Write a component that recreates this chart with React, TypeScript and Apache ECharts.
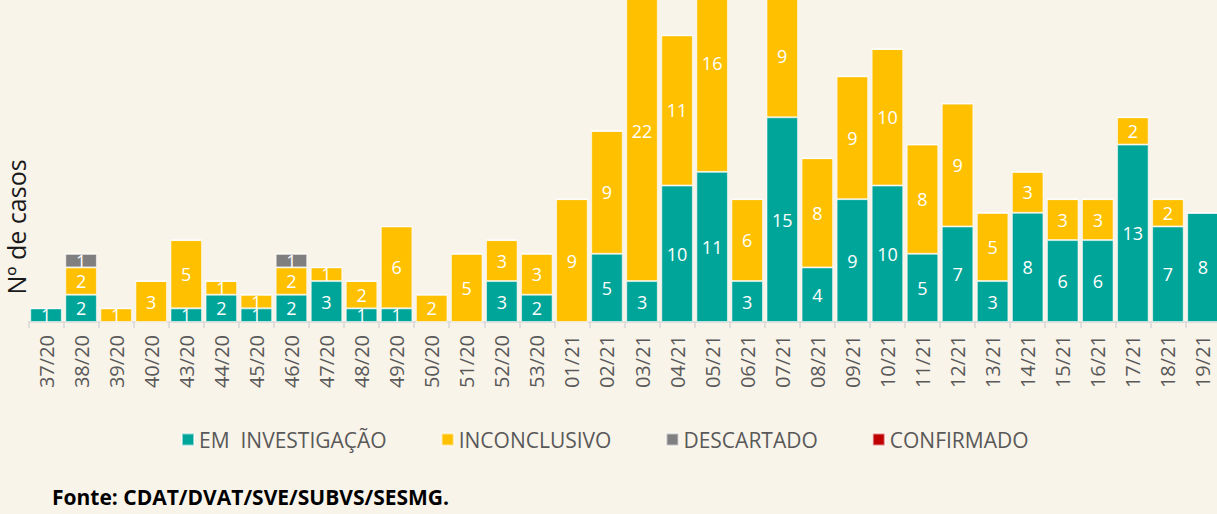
import React, { useEffect, useRef } from "react";
import * as echarts from "echarts";

const weeks = [
  "37/20", "38/20", "39/20", "40/20", "43/20", "44/20", "45/20", "46/20", "47/20", "48/20",
  "49/20", "50/20", "51/20", "52/20", "53/20", "01/21", "02/21", "03/21", "04/21", "05/21",
  "06/21", "07/21", "08/21", "09/21", "10/21", "11/21", "12/21", "13/21", "14/21", "15/21",
  "16/21", "17/21", "18/21", "19/21",
];
const emInvestigacao = [1, 2, 0, 0, 1, 2, 1, 2, 3, 1, 1, 0, 0, 3, 2, 0, 5, 3, 10, 11, 3, 15, 4, 9, 10, 5, 7, 3, 8, 6, 6, 13, 7, 8];
const inconclusivo = [0, 2, 1, 3, 5, 1, 1, 2, 1, 2, 6, 2, 5, 3, 3, 9, 9, 22, 11, 16, 6, 9, 8, 9, 10, 8, 9, 5, 3, 3, 3, 2, 2, 0];
const descartado = [0, 1, 0, 0, 0, 0, 0, 1, 0, 0, 0, 0, 0, 0, 0, 0, 0, 0, 0, 0, 0, 0, 0, 0, 0, 0, 0, 0, 0, 0, 0, 0, 0, 0];
const confirmado = [0, 0, 0, 0, 0, 0, 0, 0, 0, 0, 0, 0, 0, 0, 0, 0, 0, 0, 0, 0, 0, 0, 0, 0, 0, 0, 0, 0, 0, 0, 0, 0, 0, 0];
const seriesNames = ["EM  INVESTIGAÇÃO", "INCONCLUSIVO", "DESCARTADO", "CONFIRMADO"];
const colors = ["#00A599", "#FFC000", "#7F7F7F", "#C00000"];

const OFFSET = 100;
const FONT = "'Open Sans', 'DejaVu Sans', sans-serif";

export default function App() {
  const ref = useRef<HTMLDivElement>(null);
  useEffect(() => {
    if (!ref.current) return;
    const chart = echarts.init(ref.current, null, { renderer: "svg" });
    const data = [emInvestigacao, inconclusivo, descartado, confirmado];
    chart.setOption({
      animation: false,
      backgroundColor: "#F9F4EA",
      textStyle: { fontFamily: FONT },
      grid: { left: 28.5, width: 1192, top: OFFSET + 322 - 30 * 13.65, bottom: 614 - (OFFSET + 322) },
      legend: {
        left: 176,
        top: OFFSET + 437 - 13,
        itemWidth: 12,
        itemHeight: 12,
        itemGap: 54,
        icon: "rect",
        textStyle: { color: "#595959", fontSize: 21, fontFamily: FONT },
        data: seriesNames,
      },
      xAxis: {
        type: "category",
        data: weeks,
        axisLine: { lineStyle: { color: "#D9D9D9", width: 1.5 } },
        axisTick: { show: true, length: 6, lineStyle: { color: "#D9D9D9", width: 1.5 } },
        axisLabel: { interval: 0, rotate: 90, margin: 13, color: "#595959", fontSize: 20, fontFamily: FONT },
      },
      yAxis: {
        type: "value",
        min: 0,
        max: 30,
        show: false,
        splitLine: { show: false },
      },
      graphic: [
        {
          type: "text",
          x: 16,
          y: OFFSET + 227,
          rotation: Math.PI / 2,
          style: {
            text: "Nº de casos",
            fill: "#1A1A1A",
            font: `25px ${FONT}`,
            textAlign: "center",
            textVerticalAlign: "middle",
          },
        },
        {
          type: "text",
          x: 52,
          y: OFFSET + 497,
          style: {
            text: "Fonte: CDAT/DVAT/SVE/SUBVS/SESMG.",
            fill: "#000000",
            font: `bold 21px ${FONT}`,
            textAlign: "left",
            textVerticalAlign: "middle",
          },
        },
      ],
      series: seriesNames.map((name, i) => ({
        name,
        type: "bar",
        stack: "total",
        barCategoryGap: "10%",
        data: data[i],
        itemStyle: { color: colors[i], borderColor: "rgba(255,255,255,0.55)", borderWidth: 1 },
        label: {
          show: true,
          position: "inside",
          color: "#FFFFFF",
          fontSize: 18,
          fontFamily: FONT,
          formatter: (p: any) => (p.value ? String(p.value) : ""),
        },
      })),
    });
    return () => chart.dispose();
  }, []);
  return (
    <div style={{ position: "absolute", left: 0, top: 0, width: 1217, height: 514, overflow: "hidden", background: "#F9F4EA" }}>
      <div ref={ref} style={{ position: "absolute", left: 0, top: -OFFSET, width: 1240, height: 614 }} />
    </div>
  );
}
